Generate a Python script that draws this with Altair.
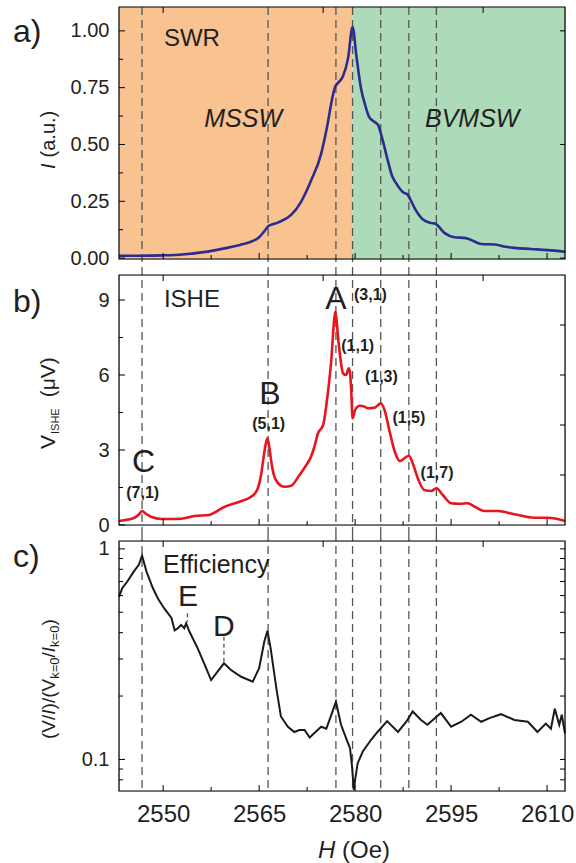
import altair as alt
import pandas as pd

FONT = "Arial"
TXT = "#231f20"

# ---------------- data ----------------
# panel a : SWR intensity I (a.u.)
H_a = [2543.1, 2546.0, 2550.0, 2553.0, 2556.0, 2558.0, 2560.0, 2562.0, 2563.5, 2565.0,
       2566.0, 2566.4, 2567.5, 2568.4, 2570.0, 2571.6, 2573.1, 2574.7, 2575.7, 2576.4,
       2576.9, 2577.3, 2578.1, 2578.9, 2579.6, 2580.2, 2580.9, 2581.6, 2582.2, 2583.0,
       2583.6, 2584.2, 2585.1, 2585.8, 2586.4, 2587.5, 2588.2, 2588.6, 2589.3, 2590.6,
       2591.8, 2592.6, 2594.0, 2595.5, 2597.3, 2598.5, 2599.7, 2601.8, 2603.5, 2604.9,
       2607.5, 2610.1, 2612.8]
I_a = [0.010, 0.010, 0.012, 0.016, 0.025, 0.034, 0.045, 0.058, 0.070, 0.092,
       0.125, 0.140, 0.152, 0.162, 0.19, 0.25, 0.34, 0.46, 0.59, 0.70,
       0.755, 0.77, 0.80, 0.88, 1.017, 0.89, 0.75, 0.67, 0.62, 0.60,
       0.585, 0.53, 0.43, 0.36, 0.33, 0.29, 0.28, 0.26, 0.22, 0.17,
       0.155, 0.15, 0.11, 0.092, 0.088, 0.075, 0.062, 0.060, 0.050, 0.045,
       0.040, 0.035, 0.028]

# panel b : V_ISHE (uV)
H_b = [2543.1, 2544.5, 2545.5, 2546.2, 2546.7, 2547.3, 2548.1, 2549.7, 2551.0, 2552.8,
       2554.9, 2557.2, 2558.2, 2559.3, 2561.7, 2563.5, 2564.3, 2564.8, 2565.3, 2565.6,
       2566.0, 2566.3, 2566.6, 2566.9, 2567.3, 2567.8, 2568.4, 2569.0, 2570.0, 2571.3,
       2572.3, 2573.1, 2573.6, 2574.2, 2575.0, 2575.7, 2576.3, 2576.7, 2576.9, 2577.1,
       2577.3, 2577.7, 2578.1, 2578.6, 2579.0, 2579.2, 2579.4, 2579.6, 2580.0, 2580.7,
       2581.3, 2582.0, 2583.0, 2583.6, 2584.0, 2584.6, 2585.4, 2586.2, 2587.0, 2587.7,
       2588.4, 2589.0, 2589.8, 2590.8, 2591.9, 2592.7, 2593.7, 2595.0, 2596.3, 2597.6,
       2598.7, 2600.2, 2602.3, 2604.9, 2608.0, 2610.1, 2612.8]
V_b = [0.16, 0.22, 0.29, 0.42, 0.56, 0.45, 0.33, 0.24, 0.24, 0.25,
       0.36, 0.40, 0.52, 0.69, 0.91, 1.09, 1.25, 1.47, 2.0, 2.53,
       3.2, 3.47, 3.1, 2.53, 2.0, 1.73, 1.57, 1.53, 1.57, 2.0,
       2.37, 2.73, 3.1, 3.67, 4.0, 5.2, 6.67, 8.13, 8.53, 8.2,
       7.6, 6.67, 6.07, 6.0, 6.27, 6.1, 5.33, 4.27, 4.6, 4.77,
       4.75, 4.67, 4.69, 4.8, 4.87, 4.6, 3.73, 2.93, 2.56, 2.67,
       2.77, 2.47, 1.87, 1.40, 1.36, 1.47, 1.20, 0.87, 0.85, 0.87,
       0.73, 0.56, 0.56, 0.43, 0.29, 0.29, 0.16]

# panel c : efficiency (V/I)/(V_k=0/I_k=0)
H_c = [2543.1, 2543.6, 2544.4, 2545.4, 2546.2, 2546.7, 2547.4, 2548.4, 2549.2, 2550.2,
       2551.3, 2551.8, 2552.3, 2552.8, 2553.3, 2553.6, 2554.1, 2555.4, 2556.5, 2557.5,
       2558.5, 2559.5, 2560.6, 2562.2, 2564.0, 2565.0, 2565.8, 2566.3, 2566.8, 2567.7,
       2568.4, 2569.5, 2570.5, 2571.3, 2572.1, 2572.9, 2573.6, 2574.7, 2575.5, 2576.2,
       2577.0, 2577.8, 2578.6, 2579.2, 2579.5, 2579.8, 2580.0, 2580.4, 2581.2, 2582.5,
       2583.5, 2585.0, 2586.7, 2588.0, 2589.0, 2590.3, 2591.3, 2593.4, 2595.0, 2596.6,
       2598.1, 2599.7, 2601.0, 2602.8, 2604.9, 2607.0, 2608.5, 2609.8, 2610.6, 2611.2,
       2611.9, 2612.3, 2612.8]
E_c = [0.593, 0.65, 0.70, 0.78, 0.84, 0.93, 0.78, 0.65, 0.58, 0.52,
       0.47, 0.41, 0.42, 0.435, 0.42, 0.443, 0.405, 0.337, 0.281, 0.238,
       0.261, 0.286, 0.266, 0.247, 0.234, 0.271, 0.362, 0.408, 0.337, 0.217,
       0.160, 0.143, 0.135, 0.138, 0.138, 0.127, 0.133, 0.143, 0.140, 0.160,
       0.188, 0.146, 0.126, 0.113, 0.094, 0.0717, 0.080, 0.096, 0.109, 0.124,
       0.135, 0.152, 0.135, 0.151, 0.169, 0.154, 0.146, 0.166, 0.143, 0.151,
       0.163, 0.151, 0.157, 0.164, 0.154, 0.151, 0.135, 0.148, 0.140, 0.174,
       0.146, 0.163, 0.133]

dash_H = [2546.7, 2566.4, 2577.0, 2579.6, 2584.0, 2588.4, 2592.7]
region_start = [2543.1, 2579.6]
region_end = [2579.6, 2612.8]
region_color = ["#F9C291", "#ADDAB9"]

x_domain = [2543.1, 2612.8]
x_major = [2550, 2565, 2580, 2595, 2610]
x_minor = [2557.5, 2572.5, 2587.5, 2602.5]
x_top = [2550, 2575, 2600]

ya_domain = [-0.004, 1.105]
ya_labels = [0.0, 0.25, 0.5, 0.75, 1.0]
ya_minor = [0.125, 0.375, 0.625, 0.875]
ya_right = [0.0, 0.5, 1.0]

yb_domain = [0.0, 10.0]
yb_labels = [0, 3, 6, 9]
yb_minor = [1.5, 4.5, 7.5]
yb_right = [2, 4, 6, 8]

yc_domain = [0.0708, 1.09]
yc_labels = [0.1, 1.0]
yc_minor = [0.08, 0.09, 0.2, 0.3, 0.4, 0.5, 0.6, 0.7, 0.8, 0.9]

# annotations
ann_a = pd.DataFrame({"H": [2554.5], "v": [0.965], "t": ["SWR"]})
ann_a_it = pd.DataFrame({"H": [2562.5, 2598.3], "v": [0.614, 0.614], "t": ["MSSW", "BVMSW"]})
ann_b_big = pd.DataFrame({"H": [2577.0, 2566.7, 2546.95], "v": [9.06, 5.23, 2.53], "t": ["A", "B", "C"]})
ann_b_mode = pd.DataFrame({
    "H": [2582.4, 2580.4, 2584.1, 2588.4, 2592.8, 2566.5, 2546.8],
    "v": [9.22, 7.17, 5.93, 4.29, 2.09, 4.06, 1.30],
    "t": ["(3,1)", "(1,1)", "(1,3)", "(1,5)", "(1,7)", "(5,1)", "(7,1)"]})
ann_b_lbl = pd.DataFrame({"H": [2554.5], "v": [9.01], "t": ["ISHE"]})
ann_c_lbl = pd.DataFrame({"H": [2558.3], "v": [0.842], "t": ["Efficiency"]})
ann_c_big = pd.DataFrame({"H": [2553.9, 2559.5], "v": [0.593, 0.427], "t": ["E", "D"]})
stub_c = pd.DataFrame({"H": [2553.8, 2559.5], "v": [0.494, 0.383], "v2": [0.451, 0.291]})

# ---------------- helpers ----------------
W = 446
HA, HB, HC = 252, 250, 250
one = pd.DataFrame({"k": [0]})

AW = {"(": 333, ")": 333, "V": 667, "/": 278, "I": 278, "k": 500, "=": 584, "0": 556,
      " ": 278, "μ": 576, "a": 556, ".": 278, "u": 556, "S": 667, "H": 722, "E": 667,
      "O": 778, "e": 556}


def tw(s, fs):
    return sum(AW.get(c, 556) for c in s) * fs / 1000.0


xs = alt.Scale(domain=x_domain, nice=False, zero=False)


def xenc(show):
    if show:
        ax = alt.Axis(values=x_major, format="d", labelFontSize=24, labelFont=FONT,
                      labelColor=TXT, ticks=False, domain=False, grid=False, title=None,
                      labelPadding=11)
        return alt.X("H:Q", scale=xs, axis=ax)
    return alt.X("H:Q", scale=xs, axis=None)


def yenc(domain, values, fmt, log=False):
    sc = alt.Scale(domain=domain, nice=False, zero=False, type="log") if log else \
        alt.Scale(domain=domain, nice=False, zero=False)
    ax = alt.Axis(values=values, format=fmt, labelFontSize=20, labelFont=FONT,
                  labelColor=TXT, ticks=False, domain=False, grid=False, title=None,
                  labelPadding=10)
    return alt.Y("v:Q", scale=sc, axis=ax)


def ticks_layers(X, Y, h, left_major, left_minor, right_vals, top_vals):
    L = []
    dfb = pd.DataFrame({"H": x_major})
    dfbm = pd.DataFrame({"H": x_minor})
    L.append(alt.Chart(dfb).mark_rule(color="black", strokeWidth=1).encode(
        x=X, y=alt.value(h), y2=alt.value(h - 6)))
    L.append(alt.Chart(dfbm).mark_rule(color="black", strokeWidth=1).encode(
        x=X, y=alt.value(h), y2=alt.value(h - 4)))
    L.append(alt.Chart(pd.DataFrame({"H": top_vals})).mark_rule(color="black", strokeWidth=1).encode(
        x=X, y=alt.value(0), y2=alt.value(6)))
    L.append(alt.Chart(pd.DataFrame({"v": left_major})).mark_rule(color="black", strokeWidth=1).encode(
        y=Y, x=alt.value(0), x2=alt.value(6)))
    L.append(alt.Chart(pd.DataFrame({"v": left_minor})).mark_rule(color="black", strokeWidth=1).encode(
        y=Y, x=alt.value(0), x2=alt.value(4)))
    L.append(alt.Chart(pd.DataFrame({"v": right_vals})).mark_rule(color="black", strokeWidth=1).encode(
        y=Y, x=alt.value(W), x2=alt.value(W - 5)))
    return L


def frame(h):
    return alt.Chart(one).mark_rect(fillOpacity=0, stroke="black", strokeWidth=1.2).encode(
        x=alt.value(0), x2=alt.value(W), y=alt.value(0), y2=alt.value(h))


def dashes(X, y0, y1):
    return alt.Chart(pd.DataFrame({"H": dash_H})).mark_rule(
        strokeDash=[8, 5], color="#555555", strokeWidth=1.3).encode(
        x=X, y=alt.value(y0), y2=alt.value(y1))


def vtitle(pieces, x_base, y_bottom):
    # pieces: (text, fontsize, italic, subscript, gap_before)
    L = []
    y = y_bottom
    for text, fs, it, sub, gap in pieces:
        y -= gap
        L.append(alt.Chart(one).mark_text(
            angle=270, align="left", baseline="alphabetic", font=FONT, fontSize=fs,
            fontStyle="italic" if it else "normal", color=TXT).encode(
            x=alt.value(x_base + (4 if sub else 0)), y=alt.value(y), text=alt.value(text)))
        y -= tw(text, fs)
    return L


def plabel(t, yv):
    return alt.Chart(one).mark_text(align="left", baseline="middle", font=FONT,
                                    fontSize=32, color=TXT).encode(
        x=alt.value(-106), y=alt.value(yv), text=alt.value(t))


def txt(df, X, Y, fs, style="normal", weight="normal"):
    return alt.Chart(df).mark_text(align="center", baseline="middle", font=FONT, fontSize=fs,
                                   fontStyle=style, fontWeight=weight, color=TXT).encode(
        x=X, y=Y, text="t:N")


# ---------------- panel a ----------------
Xa = xenc(False)
Ya = yenc(ya_domain, ya_labels, ".2f")
reg = pd.DataFrame({"H": region_start, "H2": region_end, "c": region_color})
bg = alt.Chart(reg).mark_rect().encode(
    x=Xa, x2="H2:Q", y=alt.value(0), y2=alt.value(HA),
    color=alt.Color("c:N", scale=None))
line_a = alt.Chart(pd.DataFrame({"H": H_a, "v": I_a})).mark_line(
    color="#2B2C8E", strokeWidth=2.6, interpolate="monotone").encode(x=Xa, y=Ya)
pa = alt.layer(
    bg, dashes(Xa, 0, HA + 8), line_a,
    *ticks_layers(Xa, Ya, HA, ya_labels, ya_minor, ya_right, x_top),
    txt(ann_a, Xa, Ya, 24), txt(ann_a_it, Xa, Ya, 25, style="italic"),
    frame(HA), plabel("a)", 25),
    *vtitle([("I", 20, True, False, 0), ("(a.u.)", 20, False, False, 6)], -64, 162),
).properties(width=W, height=HA)

# ---------------- panel b ----------------
Xb = xenc(False)
Yb = yenc(yb_domain, yb_labels, "d")
line_b = alt.Chart(pd.DataFrame({"H": H_b, "v": V_b})).mark_line(
    color="#E8141E", strokeWidth=2.6, interpolate="monotone").encode(x=Xb, y=Yb)
pb = alt.layer(
    dashes(Xb, -8, HB + 8), line_b,
    *ticks_layers(Xb, Yb, HB, yb_labels, yb_minor, yb_right, x_top),
    txt(ann_b_lbl, Xb, Yb, 24), txt(ann_b_big, Xb, Yb, 32),
    txt(ann_b_mode, Xb, Yb, 16, weight="bold"),
    frame(HB), plabel("b)", 27),
    *vtitle([("V", 21, False, False, 0), ("ISHE", 11, False, True, 1),
             ("(μV)", 21, False, False, 11)], -64, 174),
).properties(width=W, height=HB)

# ---------------- panel c ----------------
Xc = xenc(True)
Yc = yenc(yc_domain, yc_labels, "~g", log=True)
line_c = alt.Chart(pd.DataFrame({"H": H_c, "v": E_c})).mark_line(
    color="#1a1a1a", strokeWidth=2.0).encode(x=Xc, y=Yc)
stubs = alt.Chart(stub_c).mark_rule(strokeDash=[4, 3], color="#555555", strokeWidth=1.3).encode(
    x=Xc, y=Yc, y2=alt.Y2("v2:Q"))
htitle = [
    alt.Chart(one).mark_text(align="left", baseline="alphabetic", font=FONT, fontSize=24,
                             fontStyle="italic", color=TXT).encode(
        x=alt.value(199), y=alt.value(317), text=alt.value("H")),
    alt.Chart(one).mark_text(align="left", baseline="alphabetic", font=FONT, fontSize=24,
                             color=TXT).encode(
        x=alt.value(199 + tw("H ", 24)), y=alt.value(317), text=alt.value("(Oe)")),
]
pc = alt.layer(
    dashes(Xc, -8, HC), line_c, stubs,
    *ticks_layers(Xc, Yc, HC, yc_labels, yc_minor, yc_minor + yc_labels, x_top),
    txt(ann_c_lbl, Xc, Yc, 25), txt(ann_c_big, Xc, Yc, 30),
    frame(HC), plabel("c)", 16),
    *vtitle([("(V/", 19, False, False, 0), ("I", 19, True, False, 0), (")/(V", 19, False, False, 0),
             ("k=0", 13, False, True, 0), ("/", 19, False, False, 0), ("I", 19, True, False, 0),
             ("k=0", 13, False, True, 0), (")", 19, False, False, 0)], -64, 198),
    *htitle,
).properties(width=W, height=HC)

chart = alt.vconcat(pa, pb, pc, spacing=16, bounds="flush").properties(
    padding={"left": 12, "top": 5, "right": 0, "bottom": 0}
).configure_view(stroke=None).configure(background="white")

chart.save("out.html", embed_options={"renderer": "svg", "actions": False})
